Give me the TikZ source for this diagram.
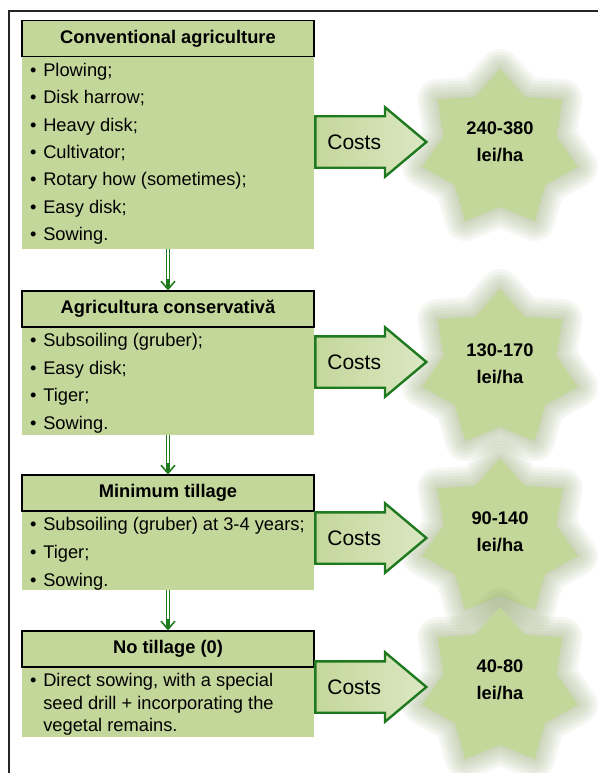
\documentclass[tikz,border=0pt]{standalone}
\usepackage{fontspec}
\setmainfont{Liberation Sans}
\usetikzlibrary{positioning,shapes.geometric,shapes.arrows,arrows.meta}

\definecolor{boxgreen}{HTML}{C4D79B}
\definecolor{flowgreen}{HTML}{1F7A1F}
\definecolor{glowgreen}{HTML}{8A9E66}

\newcommand{\opbullet}{\makebox[13.3pt][l]{\textbullet}}

\tikzset{
  stagetitle/.style={draw=black, line width=1.3pt, fill=boxgreen, minimum width=292pt,
    minimum height=36pt, inner sep=0pt, anchor=south, font=\bfseries\fontsize{18.3}{20}\selectfont},
  stagebody/.style={fill=boxgreen, minimum width=292pt, inner sep=0pt, anchor=north},
  stageitem/.style={anchor=base west, inner sep=0pt, font=\fontsize{18.3}{22}\selectfont},
  flow/.style={draw=flowgreen, line width=0.9pt, double=white, double distance=2pt, shorten >=3pt},
  flowtip/.style={draw=flowgreen, line width=1.6pt, -{Straight Barb[length=8pt, width=14pt]}},
  costarrow/.style={single arrow, draw=flowgreen, line width=2.4pt, left color=boxgreen,
    right color=boxgreen!60!white, minimum height=111pt, text height=24.5pt, text depth=24.5pt,
    text width=0pt, single arrow head extend=9pt, single arrow tip angle=80, inner sep=0pt,
    anchor=tail},
  costtext/.style={inner sep=0pt, font=\fontsize{21}{24}\selectfont},
  coststar/.style={star, star points=7, star point ratio=1.38, minimum size=160pt,
    inner sep=0pt, fill=boxgreen},
  costglow/.style={star, star points=7, star point ratio=1.38, minimum size=160pt,
    inner sep=0pt, draw=glowgreen, draw opacity=0.08, line join=round, line width=#1},
  costvalue/.style={align=center, inner sep=0pt, font=\bfseries\fontsize{18.3}{26.7}\selectfont},
}

\begin{document}
\begin{tikzpicture}[x=1pt, y=1pt]
\useasboundingbox (0,0) rectangle (598,-773);
\draw [line width=2pt, black!85] (9,-773) -- (9,-11) -- (598,-11);

% stages
\node [stagebody, minimum height=191.2pt] (conv-body) at (168,-57.3) {};
\node [stagetitle] (conv) at (conv-body.north) {Conventional agriculture};

\node [stagebody, minimum height=107.3pt] (cons-body) at (168,-327.7) {};
\node [stagetitle] (cons) at (cons-body.north) {Agricultura conservativă};

\node [stagebody, minimum height=78.3pt] (mint-body) at (168,-511.7) {};
\node [stagetitle] (mint) at (mint-body.north) {Minimum tillage};

\node [stagebody, minimum height=69pt] (notill-body) at (168,-667.7) {};
\node [stagetitle] (notill) at (notill-body.north) {No tillage (0)};

\foreach \op [count=\i] in {Plowing;, Disk harrow;, Heavy disk;, Cultivator;,
    Rotary how (sometimes);, Easy disk;, Sowing.}
  \node [stageitem] (conv-\i) at ([xshift=8pt, yshift={-19pt-27.4pt*(\i-1)}]conv-body.north west) {\opbullet\op};

\foreach \op [count=\i] in {Subsoiling (gruber);, Easy disk;, Tiger;, Sowing.}
  \node [stageitem] (cons-\i) at ([xshift=8pt, yshift={-19pt-27.6pt*(\i-1)}]cons-body.north west) {\opbullet\op};

\foreach \op [count=\i] in {Subsoiling (gruber) at 3-4 years;, Tiger;, Sowing.}
  \node [stageitem] (mint-\i) at ([xshift=8pt, yshift={-19pt-27.8pt*(\i-1)}]mint-body.north west) {\opbullet\op};

\foreach \op [count=\i] in {{\opbullet Direct sowing, with a special},
    {\hspace*{13.3pt}seed drill + incorporating the}, {\hspace*{13.3pt}vegetal remains.}}
  \node [stageitem] (notill-\i) at ([xshift=8pt, yshift={-19pt-22.5pt*(\i-1)}]notill-body.north west) {\op};

% flow between stages
\foreach \up/\dn in {conv/cons, cons/mint, mint/notill} {
  \draw [flow] (\up-body.south) -- (\dn.north);
  \draw [flowtip] ([yshift=11pt]\dn.north) -- (\dn.north);
}

% costs
\foreach \stage/\tip/\ctr/\txt/\val [count=\k] in {conv/142/149/141.7/240-380,
    cons/362/369/364/130-170, mint/538/538/531.5/90-140, notill/687/687/680/40-80} {
  \foreach \w in {40,34,28,22,16,10,4}
    \node [costglow=\w pt] (glow-\k-\w) at (500,-\ctr) {};
  \node [coststar] (star-\k) at (500,-\ctr) {};
  \node [costarrow] (arrow-\k) at (\stage-body.east |- 0,-\tip) {};
  \node [costtext] (costs-\k) at ([xshift=40pt]arrow-\k.tail) {Costs};
  \node [costvalue] (value-\k) at (500,-\txt) {\val\\lei/ha};
}

\end{tikzpicture}
\end{document}
